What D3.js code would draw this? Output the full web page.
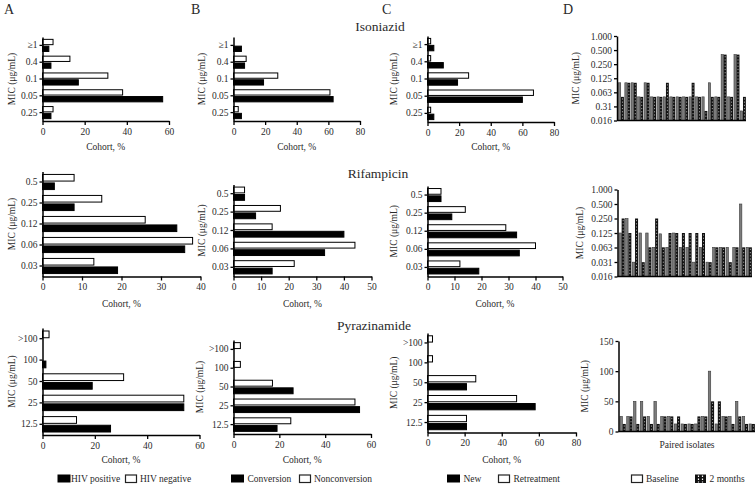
<!DOCTYPE html>
<html><head><meta charset="utf-8">
<script src="https://cdn.jsdelivr.net/npm/d3@7"></script>
<style>
body{margin:0;background:#fff;}
svg text{font-family:"Liberation Serif","Times New Roman",serif;fill:#2a2a2a;}
</style></head><body><svg id="c" width="756" height="485"></svg>
<script>
// ---------------- DATA ----------------
const drugs = ["Isoniazid", "Rifampicin", "Pyrazinamide"];
const panelLetters = ["A", "B", "C", "D"];

const micIsoniazid = ["≥1", "0.4", "0.1", "0.05", "0.25"];
const micRifampicin = ["0.5", "0.25", "0.12", "0.06", "0.03"];
const micPyrazinamide = [">100", "100", "50", "25", "12.5"];

// Panel A: HIV status (% of cohort)
const hivPositiveINH = [3, 4, 17, 57, 4];
const hivNegativeINH = [5, 13, 31, 38, 5];
const hivPositiveRIF = [3, 8, 34, 36, 19];
const hivNegativeRIF = [8, 15, 26, 38, 13];
const hivPositivePZA = [0, 1.3, 19, 54, 26];
const hivNegativePZA = [2.5, 0, 31, 54, 13];

// Panel B: culture conversion
const conversionINH = [5, 7, 19, 63, 5];
const nonconversionINH = [0, 8, 28, 61, 3];
const conversionRIF = [4, 8, 40, 33, 14];
const nonconversionRIF = [4, 17, 14, 44, 22];
const conversionPZA = [0, 0, 26, 55, 19];
const nonconversionPZA = [3, 3, 17, 53, 25];

// Panel C: treatment history
const newINH = [4, 10, 19, 60, 4];
const retreatmentINH = [2, 2, 26, 67, 2];
const newRIF = [5, 9, 33, 34, 19];
const retreatmentRIF = [5, 14, 29, 40, 12];
const newPZA = [0, 0, 21, 58, 21];
const retreatmentPZA = [2.7, 2.7, 26, 48, 21];

// Cohort axis maxima and ticks
const cohortMax = [[60, 80, 80], [40, 50, 50], [60, 60, 80]];
const cohortTicks = [
  [[0, 20, 40, 60], [0, 20, 40, 60, 80], [0, 20, 40, 60, 80]],
  [[0, 10, 20, 30, 40], [0, 10, 20, 30, 40, 50], [0, 10, 20, 30, 40, 50]],
  [[0, 20, 40, 60], [0, 20, 40, 60], [0, 20, 40, 60, 80]]
];

// Panel D: paired isolates MIC (µg/mL)
const baselineINH = [0.1, 0.1, 0.1, 0.05, 0.1, 0.05, 0.05, 0.05, 0.05, 0.05, 0.05, 0.05, 0.05, 0.05, 0.1, 0.05, 0.4, 0.05, 0.4, 0.025];
const twoMonthsINH = [0.05, 0.1, 0.1, 0.05, 0.1, 0.05, 0.05, 0.1, 0.05, 0.05, 0.05, 0.1, 0.05, 0.025, 0.05, 0.05, 0.4, 0.05, 0.4, 0.05];
const baselineRIF = [0.125, 0.25, 0.031, 0.125, 0.125, 0.063, 0.12, 0.063, 0.125, 0.063, 0.063, 0.031, 0.063, 0.031, 0.063, 0.063, 0.063, 0.063, 0.5, 0.063];
const twoMonthsRIF = [0.25, 0.125, 0.25, 0.031, 0.063, 0.25, 0.063, 0.125, 0.125, 0.125, 0.125, 0.125, 0.125, 0.031, 0.063, 0.063, 0.031, 0.063, 0.063, 0.063];
const baselinePZA = [25, 25, 50, 50, 25, 50, 25, 25, 12.5, 12.5, 12.5, 12.5, 25, 100, 12.5, 25, 25, 50, 25, 12.5];
const twoMonthsPZA = [12.5, 25, 12.5, 25, 12.5, 12.5, 25, 25, 25, 12.5, 12.5, 25, 25, 50, 50, 25, 12.5, 25, 12.5, 12.5];

const logTickValues = [1/64, 1/32, 1/16, 1/8, 1/4, 1/2, 1];
const logTickLabelsINH = ["0.016", "0.31", "0.063", "0.125", "0.250", "0.500", "1.000"];
const logTickLabelsRIF = ["0.016", "0.031", "0.063", "0.125", "0.250", "0.500", "1.000"];
const pzaTicks = [0, 50, 100, 150];

const legendA = ["HIV positive", "HIV negative"];
const legendB = ["Conversion", "Nonconversion"];
const legendC = ["New", "Retreatment"];
const legendD = ["Baseline", "2 months"];

const yTitle = "MIC (μg/mL)";
const xTitle = "Cohort, %";
const dXTitle = "Paired isolates";

// ---------------- LAYOUT ----------------
const svg = d3.select("#c");
const FS = 9.5;

const hLayout = [
  [{l:42.5,r:169,t:37,b:121,ty:149.5,yx:12},{l:233.5,r:360,t:37,b:121,ty:149.5,yx:202},{l:427.5,r:554,t:36,b:122,ty:149.5,yx:393.5}],
  [{l:42.5,r:200.5,t:171.5,b:276.5,ty:307,yx:12},{l:233.5,r:371.5,t:184.5,b:276.5,ty:307,yx:202},{l:427.5,r:562.5,t:186,b:276.5,ty:307,yx:393.5}],
  [{l:42.5,r:199.5,t:328,b:435,ty:463,yx:12},{l:233.5,r:371,t:340,b:434,ty:463,yx:200},{l:427.5,r:576,t:333,b:432.5,ty:463,yx:393.5}]
];
const dLayout = [
  {l:617,r:746,t:36,b:120.5,yx:576},
  {l:617.5,r:752,t:189.5,b:276.5,yx:580},
  {l:618.5,r:755,t:341,b:431.5,yx:585}
];

const hData = [
  [[micIsoniazid, hivPositiveINH, hivNegativeINH], [micIsoniazid, conversionINH, nonconversionINH], [micIsoniazid, newINH, retreatmentINH]],
  [[micRifampicin, hivPositiveRIF, hivNegativeRIF], [micRifampicin, conversionRIF, nonconversionRIF], [micRifampicin, newRIF, retreatmentRIF]],
  [[micPyrazinamide, hivPositivePZA, hivNegativePZA], [micPyrazinamide, conversionPZA, nonconversionPZA], [micPyrazinamide, newPZA, retreatmentPZA]]
];

function styleAxis(sel) {
  sel.attr("font-family", null);
  sel.select(".domain").attr("stroke", "#000").attr("stroke-width", 1.5);
  sel.selectAll(".tick line").attr("stroke", "#000").attr("stroke-width", 1.3);
  sel.selectAll(".tick text").attr("font-size", FS).attr("fill", "#2a2a2a")
     .style("font-family", '"Liberation Serif","Times New Roman",serif');
}

function yAxisTitle(x, y0, y1) {
  svg.append("text").attr("transform", `translate(${x},${(y0 + y1) / 2}) rotate(-90)`)
    .attr("text-anchor", "middle").attr("dy", "0.35em").attr("font-size", FS).text(yTitle);
}

function hPanel(L, cats, dark, light, max, ticks) {
  const g = svg.append("g");
  const x = d3.scaleLinear().domain([0, max]).range([L.l, L.r]);
  const y = d3.scaleBand().domain(cats).range([L.t, L.b]).paddingInner(0.28).paddingOuter(0.14);
  const sub = d3.scaleBand().domain(["light", "dark"]).range([0, y.bandwidth()]).paddingInner(0.22);
  const rows = [];
  cats.forEach((c, i) => { rows.push({c, k: "light", v: light[i]}); rows.push({c, k: "dark", v: dark[i]}); });
  g.selectAll("rect").data(rows.filter(d => d.v > 0)).join("rect")
    .attr("x", x(0)).attr("y", d => y(d.c) + sub(d.k))
    .attr("width", d => x(d.v) - x(0)).attr("height", sub.bandwidth())
    .attr("fill", d => d.k === "dark" ? "#000" : "#fff")
    .attr("stroke", "#000").attr("stroke-width", 1);
  g.append("g").attr("transform", `translate(0,${L.b})`)
    .call(d3.axisBottom(x).tickValues(ticks).tickSize(4).tickSizeOuter(0).tickPadding(3).tickFormat(d3.format("d")))
    .call(styleAxis);
  g.append("g").attr("transform", `translate(${L.l},0)`)
    .call(d3.axisLeft(y).tickSize(3).tickSizeOuter(0).tickPadding(2))
    .call(styleAxis);
  g.append("text").attr("x", (L.l + L.r) / 2).attr("y", L.ty).attr("text-anchor", "middle")
    .attr("font-size", FS).text(xTitle);
  yAxisTitle(L.yx, L.t, L.b);
}

function dPanel(L, base, two, yScale, tickVals, tickLabels) {
  const g = svg.append("g");
  const idx = d3.range(base.length);
  const x = d3.scaleBand().domain(idx).range([L.l + 1, L.r]).paddingInner(0.1).paddingOuter(0.02);
  const sub = d3.scaleBand().domain(["b", "m"]).range([0, x.bandwidth()]);
  const y0 = yScale.domain()[0];
  const bw = sub.bandwidth();
  g.selectAll("rect.base").data(idx).join("rect").attr("class", "base")
    .attr("x", i => x(i) + sub("b") + 0.3).attr("y", i => yScale(base[i]))
    .attr("width", bw - 0.6).attr("height", i => yScale(y0) - yScale(base[i]))
    .attr("fill", "#7c7c7c").attr("stroke", "#3a3a3a").attr("stroke-width", 0.6);
  g.selectAll("rect.two").data(idx).join("rect").attr("class", "two")
    .attr("x", i => x(i) + sub("m")).attr("y", i => yScale(two[i]))
    .attr("width", bw).attr("height", i => yScale(y0) - yScale(two[i]))
    .attr("fill", "#111");
  g.selectAll("line.dot").data(idx).join("line").attr("class", "dot")
    .attr("x1", i => x(i) + sub("m") + bw / 2).attr("x2", i => x(i) + sub("m") + bw / 2)
    .attr("y1", i => yScale(two[i]) + 1.5).attr("y2", i => yScale(y0))
    .attr("stroke", "#ddd").attr("stroke-width", 0.7).attr("stroke-dasharray", "1.2,2");
  const ax = d3.axisLeft(yScale).tickValues(tickVals).tickSize(3).tickSizeOuter(0).tickPadding(2);
  if (tickLabels) ax.tickFormat((d, i) => tickLabels[i]);
  g.append("g").attr("transform", `translate(${L.l},0)`).call(ax).call(styleAxis);
  g.append("line").attr("x1", L.l).attr("x2", L.r).attr("y1", L.b).attr("y2", L.b)
    .attr("stroke", "#000").attr("stroke-width", 1.5);
  yAxisTitle(L.yx, L.t, L.b);
}

// titles and letters
const letterX = [4, 191, 382, 563];
panelLetters.forEach((t, i) => svg.append("text").attr("x", letterX[i]).attr("y", 14).attr("font-size", 14).text(t));
const titleXY = [[380, 31], [378, 177.5], [374, 329.5]];
drugs.forEach((t, i) => svg.append("text").attr("x", titleXY[i][0]).attr("y", titleXY[i][1])
  .attr("text-anchor", "middle").attr("font-size", 13.5).text(t));

// horizontal panels
for (let r = 0; r < 3; r++) for (let c = 0; c < 3; c++) {
  const [cats, dark, light] = hData[r][c];
  hPanel(hLayout[r][c], cats, dark, light, cohortMax[r][c], cohortTicks[r][c]);
}

// D panels
const yINH = d3.scaleLog().base(2).domain([1/64, 1]).range([dLayout[0].b, dLayout[0].t]);
dPanel(dLayout[0], baselineINH, twoMonthsINH, yINH, logTickValues, logTickLabelsINH);
const yRIF = d3.scaleLog().base(2).domain([1/64, 1]).range([dLayout[1].b, dLayout[1].t]);
dPanel(dLayout[1], baselineRIF, twoMonthsRIF, yRIF, logTickValues, logTickLabelsRIF);
const yPZA = d3.scaleLinear().domain([0, 150]).range([dLayout[2].b, dLayout[2].t]);
dPanel(dLayout[2], baselinePZA, twoMonthsPZA, yPZA, pzaTicks, null);
svg.append("text").attr("x", 687).attr("y", 447.5).attr("text-anchor", "middle").attr("font-size", FS).text(dXTitle);

// legends
const legY = 474.5;
function legendItem(x, label, kind, tx) {
  const g = svg.append("g");
  if (kind === "dark") {
    g.append("rect").attr("x", x).attr("y", legY).attr("width", 13).attr("height", 8).attr("fill", "#000");
  } else if (kind === "light") {
    g.append("rect").attr("x", x + 0.5).attr("y", legY + 0.5).attr("width", 11).attr("height", 7.5)
      .attr("fill", "#fff").attr("stroke", "#222").attr("stroke-width", 1.2);
  } else {
    g.append("rect").attr("x", x).attr("y", legY).attr("width", 11).attr("height", 8.5).attr("fill", "#111");
    [x + 3.5, x + 7.5].forEach(lx => g.append("line").attr("x1", lx).attr("x2", lx).attr("y1", legY + 1).attr("y2", legY + 8)
      .attr("stroke", "#fff").attr("stroke-width", 1.2).attr("stroke-dasharray", "1.5,1.5"));
  }
  g.append("text").attr("x", tx).attr("y", legY + 7.5).attr("font-size", FS).text(label);
}
legendItem(57.5, legendA[0], "dark", 71);
legendItem(125, legendA[1], "light", 140);
legendItem(231, legendB[0], "dark", 247.5);
legendItem(299, legendB[1], "light", 314);
legendItem(447, legendC[0], "dark", 463.5);
legendItem(498, legendC[1], "light", 513.5);
legendItem(631, legendD[0], "light", 646);
legendItem(695, legendD[1], "pattern", 709.5);
</script></body></html>
